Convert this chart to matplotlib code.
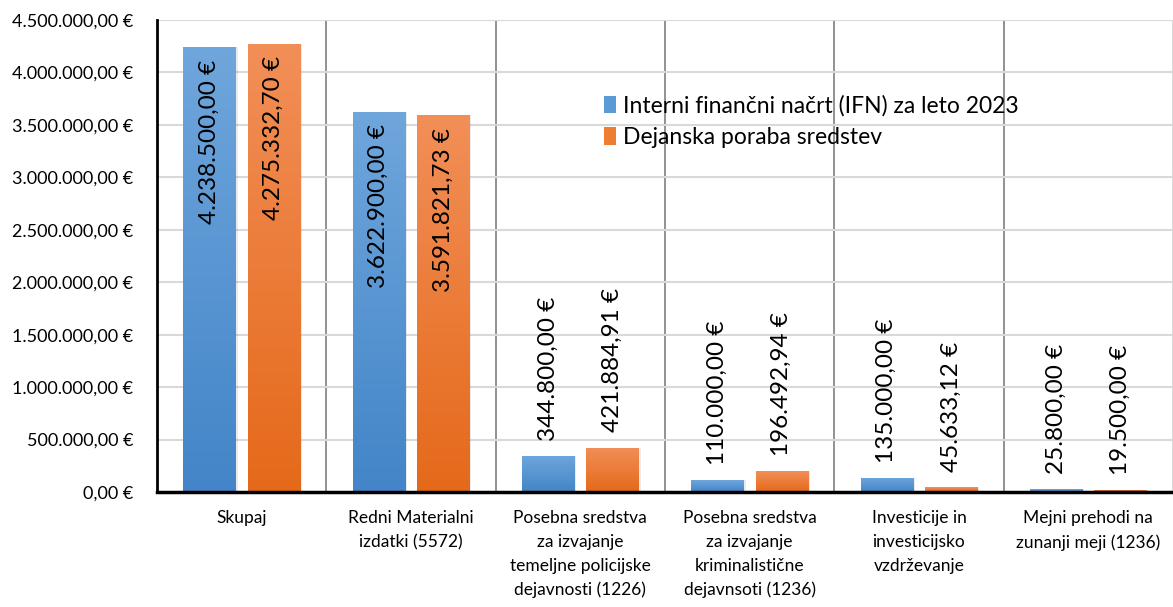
import numpy as np
import matplotlib
matplotlib.use("Agg")
import matplotlib.pyplot as plt
from matplotlib.patches import Patch
from matplotlib.colors import LinearSegmentedColormap

plt.rcParams['font.family'] = ['Lato', 'DejaVu Sans']

categories = [
    "Skupaj",
    "Redni Materialni\nizdatki (5572)",
    "Posebna sredstva\nza izvajanje\ntemeljne policijske\ndejavnosti (1226)",
    "Posebna sredstva\nza izvajanje\nkriminalistične\ndejavnsoti (1236)",
    "Investicije in\ninvesticijsko\nvzdrževanje",
    "Mejni prehodi na\nzunanji meji (1236)",
]
plan = [4238500.00, 3622900.00, 344800.00, 110000.00, 135000.00, 25800.00]
actual = [4275332.70, 3591821.73, 421884.91, 196492.94, 45633.12, 19500.00]
series_names = ["Interni finančni načrt (IFN) za leto 2023", "Dejanska poraba sredstev"]

blue_top, blue_bot = "#6fa6dc", "#4385c8"
orange_top, orange_bot = "#f28f58", "#e5691a"


def eur(v):
    s = f"{v:,.2f}"
    s = s.replace(",", "X").replace(".", ",").replace("X", ".")
    return s + " €"


def gradient_bar(ax, x, w, h, c_top, c_bot):
    cmap = LinearSegmentedColormap.from_list("g", [c_bot, c_top])
    # faint shadow
    ax.bar(x + 0.012, h, w, bottom=0, color="#000000", alpha=0.08, zorder=2, linewidth=0)
    bar = ax.bar(x, h, w, color="none", zorder=3, linewidth=0)[0]
    grad = np.linspace(0, 1, 256).reshape(-1, 1)
    im = ax.imshow(grad, cmap=cmap, aspect="auto", origin="lower",
                   extent=[x - w / 2, x + w / 2, 0, h], zorder=3)
    im.set_clip_path(bar)
    return bar


fig = plt.figure(figsize=(11.73, 6.07), dpi=100)
ax = fig.add_axes([157 / 1173, 1 - 492 / 607, 1 - 157 / 1173, (492 - 20) / 607])

x = np.arange(len(categories))
w = 0.31
off = 0.19

for xi, p, a in zip(x, plan, actual):
    for xx, v, ct, cb in [(xi - off, p, blue_top, blue_bot), (xi + off, a, orange_top, orange_bot)]:
        gradient_bar(ax, xx, w, v, ct, cb)
        if v > 1000000:
            ax.annotate(eur(v), (xx, v), xytext=(0, -9), textcoords="offset points",
                        rotation=90, ha="center", va="top", fontsize=17.5, zorder=5)
        else:
            ax.annotate(eur(v), (xx, v), xytext=(0, 11), textcoords="offset points",
                        rotation=90, ha="center", va="bottom", fontsize=17.5, zorder=5)

ax.set_xlim(-0.5, len(categories) - 0.5)
ax.set_ylim(0, 4500000)
ax.set_yticks(np.arange(0, 4500001, 500000))
ax.set_yticklabels([eur(v) for v in np.arange(0, 4500001, 500000)], fontsize=13)
ax.set_xticks(x)
ax.set_xticklabels(categories, fontsize=12.5, linespacing=1.6)
ax.tick_params(axis="both", length=0)
ax.tick_params(axis="y", pad=17)
ax.tick_params(axis="x", pad=13)

ax.grid(axis="y", color="#d9d9d9", linewidth=1.5, zorder=0)
for b in np.arange(0.5, len(categories) - 0.5, 1):
    ax.axvline(b, color="#7f7f7f", linewidth=1.2, zorder=1)
ax.axvline(len(categories) - 0.5, color="#d9d9d9", linewidth=1.5, zorder=1)

for s in ["top", "right"]:
    ax.spines[s].set_visible(False)
ax.spines["left"].set_linewidth(2)
ax.spines["bottom"].set_linewidth(2.5)
ax.spines["left"].set_zorder(6)
ax.spines["bottom"].set_zorder(6)

handles = [Patch(facecolor="#5b9bd5", edgecolor="none"), Patch(facecolor="#ed7d31", edgecolor="none")]
ax.legend(handles, series_names, loc="upper left", bbox_to_anchor=(0.42, 0.885),
          frameon=False, fontsize=16.5, handlelength=0.5, handleheight=0.8,
          handletextpad=0.3, labelspacing=0.45)

fig.savefig("out.png", dpi=100, facecolor="white")
